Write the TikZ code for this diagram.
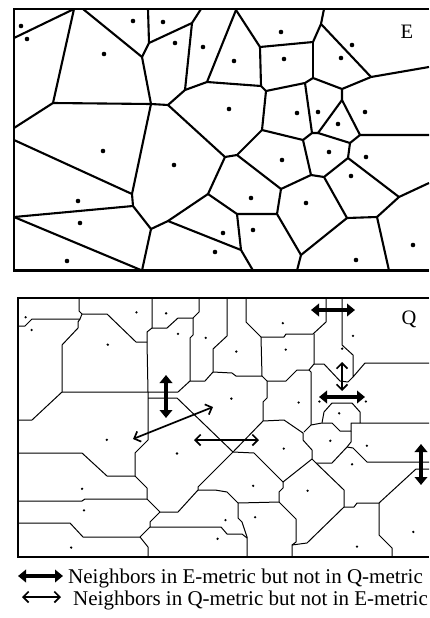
\documentclass[tikz,border=0pt]{standalone}
\usepackage{fontspec}
\setmainfont{Liberation Serif}
\usetikzlibrary{arrows.meta}
\newcommand{\sitelist}{21/26, 27/39, 133/21, 163/22, 175/43, 203/47, 104/54,
  281/32, 234/61, 284/59, 352/45, 341/58, 229/109, 297/113, 318/112, 338/124,
  365/112, 103/151, 174/165, 78/201, 80/223, 67/261, 215/252, 282/160,
  329/152, 366/157, 351/176, 251/198, 306/203, 223/233, 253/230, 356/260,
  413/245}
\tikzset{
  frame/.style={line width=2.3pt},
  eedge/.style={line width=2.1pt, line join=round},
  qedge/.style={line width=1pt, line join=round},
  enbr/.style={line width=4.2pt, {Triangle[length=8pt,width=12.5pt]}-{Triangle[length=8pt,width=12.5pt]}},
  qnbr/.style={line width=1.7pt, {Straight Barb[length=5.5pt,width=11pt]}-{Straight Barb[length=5.5pt,width=11pt]}},
  metric/.style={font=\fontsize{20.5}{24}\selectfont, inner sep=0pt},
  legtext/.style={font=\fontsize{21}{25}\selectfont, inner sep=0pt, anchor=base west}
}

\begin{document}
\begin{tikzpicture}[x=1pt, y=-1pt]
  \useasboundingbox (0,0) rectangle (429,618);

  % Euclidean panel
  \draw[frame] (429,9) -- (14,9) -- (14,270.5) -- (429,270.5);
  \draw[eedge] (14,38) -- (74,9) -- (53,103) -- (14,128);
  \draw[eedge] (53,103) -- (151,104) -- (168,105) -- (185,90) -- (207,82) -- (236,10);
  \draw[eedge] (83,9) -- (142,57) -- (151,104) -- (132,194) -- (133,206) -- (151,229) -- (142,270.5);
  \draw[eedge] (142,57) -- (149,43) -- (148,9);
  \draw[eedge] (149,43) -- (192,23) -- (201,9);
  \draw[eedge] (192,23) -- (185,90);
  \draw[eedge] (207,82) -- (261,86) -- (266,91) -- (305,83) -- (313,78) -- (342,89) -- (371,77) -- (429,67);
  \draw[eedge] (236,10) -- (260,47) -- (313,42) -- (321,24) -- (324,9);
  \draw[eedge] (260,47) -- (261,86);
  \draw[eedge] (313,42) -- (313,78);
  \draw[eedge] (321,24) -- (371,77);
  \draw[eedge] (342,89) -- (342,100) -- (360,135) -- (429,135);
  \draw[eedge] (342,100) -- (318,133) -- (350,143) -- (360,135);
  \draw[eedge] (305,83) -- (312,133) -- (318,133);
  \draw[eedge] (312,133) -- (303,140) -- (262,130) -- (266,91);
  \draw[eedge] (262,130) -- (237,155) -- (225,157) -- (168,105);
  \draw[eedge] (303,140) -- (311,175) -- (324,177) -- (348,158) -- (350,143);
  \draw[eedge] (348,158) -- (399,197) -- (429,183);
  \draw[eedge] (399,197) -- (377,217) -- (389,270.5);
  \draw[eedge] (377,217) -- (347,218) -- (324,177);
  \draw[eedge] (347,218) -- (301,255) -- (297,270.5);
  \draw[eedge] (301,255) -- (277,214) -- (281,189) -- (311,175);
  \draw[eedge] (281,189) -- (237,155);
  \draw[eedge] (225,157) -- (208,194) -- (237,214) -- (277,214);
  \draw[eedge] (237,214) -- (241,250) -- (253,270.5);
  \draw[eedge] (241,250) -- (168,221) -- (151,229);
  \draw[eedge] (208,194) -- (168,221);
  \draw[eedge] (14,140) -- (132,194);
  \draw[eedge] (14,217) -- (133,206);
  \draw[eedge] (14,217) -- (142,270.5);
  \foreach \x/\y in \sitelist
    \fill (\x,\y) circle (2.3pt);
  \node[metric] (labE) at (407,32) {E};

  % quasi-metric panel
  \draw[frame] (429,298.3) -- (18.3,298.3) -- (18.3,556.7) -- (429,556.7);
  \draw[qedge] (18,326) -- (25,326) -- (32,319) -- (80,319);
  \draw[qedge] (79,298) -- (79,311) -- (82,314) -- (80,319) -- (78,322) -- (78,328) -- (62,345) -- (62,392) -- (32,420) -- (18,420);
  \draw[qedge] (82,314) -- (107,314) -- (136,342) -- (147,342);
  \draw[qedge] (152,298) -- (152,328) -- (147,332) -- (147,342) -- (148,392) -- (148,440) -- (135,453) -- (135,476) -- (147,488) -- (147,499) -- (160,512) -- (178,512) -- (198,490) -- (198,487) -- (233,452) -- (254,453) -- (283,482) -- (312,459);
  \draw[qedge] (152,328) -- (167,328) -- (178,318) -- (193,318) -- (199,312) -- (199,298);
  \draw[qedge] (62,392) -- (148,392) -- (178,392) -- (190,381);
  \draw[qedge] (193,318) -- (193,335) -- (190,338) -- (190,381) -- (205,381) -- (213,372) -- (213,349) -- (227,336) -- (227,298);
  \draw[qedge] (213,372) -- (232,373) -- (236,376) -- (262,376) -- (261,337);
  \draw[qedge] (148,398) -- (177,398) -- (233,452);
  \draw[qedge] (18,453) -- (82,453) -- (107,476) -- (135,476);
  \draw[qedge] (18,501) -- (82,501) -- (85,499) -- (147,499);
  \draw[qedge] (160,512) -- (150,522) -- (150,527) -- (215,527) -- (221,527) -- (227,534) -- (242,534) -- (247,538);
  \draw[qedge] (18,523) -- (70,523) -- (83,537) -- (140,537) -- (150,527);
  \draw[qedge] (140,537) -- (148,547) -- (148,557);
  \draw[qedge] (198,490) -- (215,490) -- (227,492) -- (238,503) -- (238,518) -- (242,522) -- (247,537) -- (247,557);
  \draw[qedge] (238,503) -- (279,502) -- (296,519) -- (296,542) -- (292,545) -- (292,557);
  \draw[qedge] (283,482) -- (283,488) -- (279,492) -- (279,502);
  \draw[qedge] (292,545) -- (307,543) -- (344,507) -- (344,490) -- (316,463) -- (312,459) -- (312,450) -- (303,440) -- (303,433) -- (284,420) -- (263,421) -- (233,452);
  \draw[qedge] (263,421) -- (263,402) -- (267,398) -- (267,381) -- (262,376);
  \draw[qedge] (267,381) -- (286,381) -- (297,370) -- (309,370) -- (314,364) -- (314,334);
  \draw[qedge] (246,298) -- (246,322) -- (261,337) -- (284,337) -- (286,334) -- (313,334) -- (326,322) -- (326,298);
  \draw[qedge] (309,370) -- (311,372) -- (311,425) -- (304,432);
  \draw[qedge] (314,364) -- (324,364) -- (340,381) -- (348,382) -- (353,377);
  \draw[qedge] (342,298) -- (342,345) -- (353,355) -- (353,377) -- (365,363) -- (429,363);
  \draw[qedge] (311,425) -- (322,423) -- (332,423) -- (340,431) -- (351,431) -- (351,423) -- (360,423);
  \draw[qedge] (322,423) -- (324,412) -- (332,403) -- (352,403) -- (360,412) -- (360,423) -- (429,423);
  \draw[qedge] (351,431) -- (351,442) -- (347,447) -- (332,463) -- (316,463);
  \draw[qedge] (347,447) -- (353,448) -- (367,462) -- (429,462);
  \draw[qedge] (344,507) -- (354,507) -- (357,503) -- (379,503) -- (416,469) -- (429,469);
  \draw[qedge] (379,503) -- (379,535) -- (392,548) -- (392,557);
  \begin{scope}[shift={(4.9,291.8)}, xscale=0.989, yscale=0.98]
    \foreach \x/\y in \sitelist
      \fill (\x,\y) circle (1.3pt);
  \end{scope}
  \node[metric] (labQ) at (409,319) {Q};

  % neighbour changes
  \coordinate (e1a) at (166,375);  \coordinate (e1b) at (166,418);
  \coordinate (e2a) at (311,310);  \coordinate (e2b) at (355,310);
  \coordinate (e3a) at (319,397);  \coordinate (e3b) at (365,397);
  \coordinate (e4a) at (421,444);  \coordinate (e4b) at (421,485);
  \coordinate (q1a) at (133,439);  \coordinate (q1b) at (213,407);
  \coordinate (q2a) at (194,440);  \coordinate (q2b) at (259,440);
  \coordinate (q3a) at (342,362);  \coordinate (q3b) at (342,391);
  \draw[enbr] (e1a) -- (e1b);
  \draw[enbr] (e2a) -- (e2b);
  \draw[enbr] (e3a) -- (e3b);
  \draw[enbr] (e4a) -- (e4b);
  \draw[qnbr] (q1a) -- (q1b);
  \draw[qnbr] (q2a) -- (q2b);
  \draw[qnbr] (q3a) -- (q3b);

  % legend
  \coordinate (le1) at (18,576);  \coordinate (le2) at (63,576);
  \coordinate (lq1) at (22,597);  \coordinate (lq2) at (61,597);
  \draw[enbr] (le1) -- (le2);
  \draw[qnbr] (lq1) -- (lq2);
  \node[legtext] (legE) at (68,583) {Neighbors in E-metric but not in Q-metric};
  \node[legtext] (legQ) at (73,605) {Neighbors in Q-metric but not in E-metric};
\end{tikzpicture}
\end{document}
